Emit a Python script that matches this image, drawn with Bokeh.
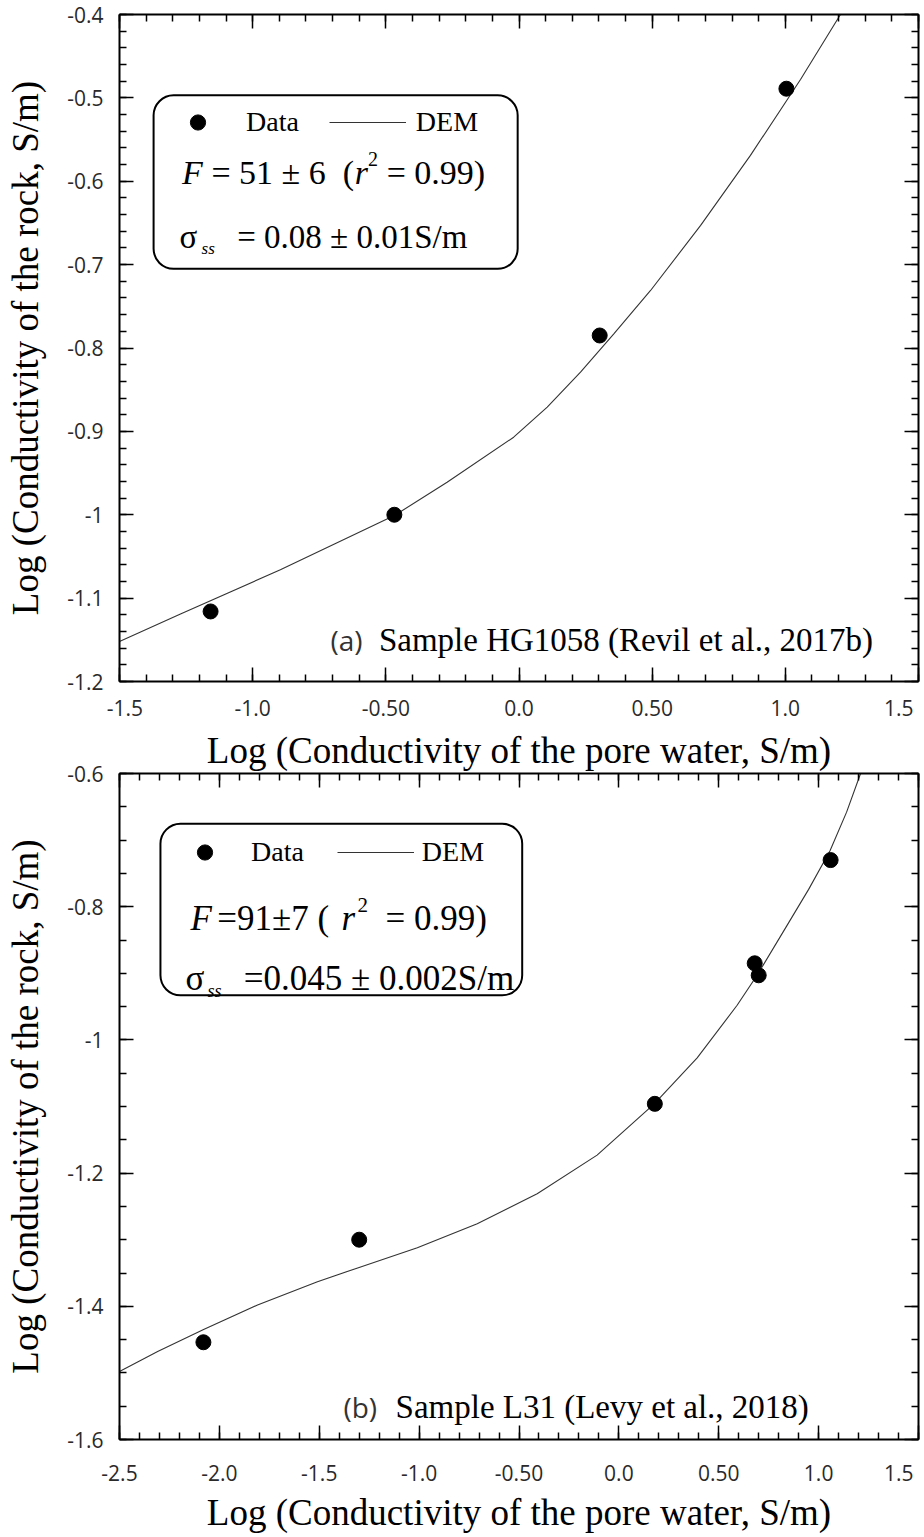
from bokeh.plotting import figure
from bokeh.layouts import column
from bokeh.models import (Range1d, FixedTicker, LinearAxis, Label, BoxAnnotation,
                          Legend, LegendItem)
from bokeh.embed import file_html
from bokeh.resources import INLINE

# ---------------- data ----------------
# (a) Sample HG1058 (Revil et al., 2017b)
a_pore = [-1.158, -0.468, 0.303, 1.004]          # log pore-water conductivity
a_rock = [-1.116, -1.000, -0.785, -0.489]        # log rock conductivity
a_dem_pore = [-1.500, -1.271, -0.896, -0.468, -0.270, -0.020, 0.106, 0.231,
              0.356, 0.494, 0.682, 0.869, 1.057, 1.207, 1.245]
a_dem_rock = [-1.152, -1.119, -1.066, -1.001, -0.961, -0.907, -0.871, -0.829,
              -0.783, -0.731, -0.653, -0.569, -0.478, -0.400, -0.381]
a_xticks = [-1.5, -1.0, -0.5, 0.0, 0.5, 1.0, 1.5]
a_xlabels = ["-1.5", "-1.0", "-0.50", "0.0", "0.50", "1.0", "1.5"]
a_yticks = [-1.2, -1.1, -1.0, -0.9, -0.8, -0.7, -0.6, -0.5, -0.4]
a_ylabels = ["-1.2", "-1.1", "-1", "-0.9", "-0.8", "-0.7", "-0.6", "-0.5", "-0.4"]

# (b) Sample L31 (Levy et al., 2018)
b_pore = [-2.08, -1.30, 0.18, 0.68, 0.70, 1.06]
b_rock = [-1.454, -1.300, -1.096, -0.885, -0.903, -0.730]
b_dem_pore = [-2.500, -2.309, -2.079, -1.809, -1.509, -1.304, -1.009, -0.709,
              -0.409, -0.109, 0.177, 0.392, 0.592, 0.692, 0.842, 0.950,
              1.057, 1.140, 1.210, 1.250]
b_dem_rock = [-1.498, -1.468, -1.435, -1.398, -1.363, -1.342, -1.312, -1.276,
              -1.231, -1.173, -1.096, -1.027, -0.948, -0.903, -0.828, -0.774,
              -0.716, -0.658, -0.600, -0.568]
b_xticks = [-2.5, -2.0, -1.5, -1.0, -0.5, 0.0, 0.5, 1.0, 1.5]
b_xlabels = ["-2.5", "-2.0", "-1.5", "-1.0", "-0.50", "0.0", "0.50", "1.0", "1.5"]
b_yticks = [-1.6, -1.4, -1.2, -1.0, -0.8, -0.6]
b_ylabels = ["-1.6", "-1.4", "-1.2", "-1", "-0.8", "-0.6"]

SERIF = "Liberation Serif"
SANS = "Open Sans"
TICK_COLOR = "#2a2a2a"
X_TITLE = "Log (Conductivity of the pore water, S/m)"
Y_TITLE = "Log (Conductivity of the rock, S/m)"
NBSP = "\u00a0"


def steps(lo, hi, step):
    n = int(round((hi - lo) / step))
    return [round(lo + i * step, 4) for i in range(n + 1)]


def text(p, x, y, s, size, font=SERIF, style="normal", color="black"):
    p.add_layout(Label(x=x, y=y, text=s, text_font=font, text_font_size=f"{size}px",
                       text_font_style=style, text_color=color,
                       text_align="left", text_baseline="alphabetic"))


def panel(xr, yr, xticks, xlabels, yticks, ylabels, xminor, yminor,
          height, border_top, border_bottom, tick_standoff, title_standoff,
          first_pad=0):
    p = figure(width=924, height=height, x_range=Range1d(*xr), y_range=Range1d(*yr),
               output_backend="svg", toolbar_location=None,
               min_border_left=119, min_border_right=6,
               min_border_top=border_top, min_border_bottom=border_bottom)
    p.outline_line_color = None
    p.border_fill_alpha = 0
    p.xgrid.visible = False
    p.ygrid.visible = False

    p.add_layout(LinearAxis(), "above")
    p.add_layout(LinearAxis(), "right")
    xt = FixedTicker(ticks=xticks, minor_ticks=xminor)
    yt = FixedTicker(ticks=yticks, minor_ticks=yminor)
    for ax in p.xaxis:
        ax.ticker = xt
    for ax in p.yaxis:
        ax.ticker = yt
    for ax in p.axis:
        ax.axis_line_width = 2
        ax.axis_line_color = "black"
        ax.major_tick_in = 14
        ax.major_tick_out = 0
        ax.minor_tick_in = 7
        ax.minor_tick_out = 0
        ax.major_tick_line_width = 1.5
        ax.minor_tick_line_width = 1.5
        ax.major_tick_line_color = "black"
        ax.minor_tick_line_color = "black"
        ax.major_label_text_font = SANS
        ax.major_label_text_font_size = "21px"
        ax.major_label_text_color = TICK_COLOR
        ax.axis_label_text_font = SERIF
        ax.axis_label_text_font_size = "37px"
        ax.axis_label_text_font_style = "normal"
        ax.axis_label_text_color = "black"

    # mirrored frame axes: ticks only, no labels
    for ax in (p.above[0], p.right[0]):
        ax.major_label_text_font_size = "0px"
        ax.major_label_text_color = None
        ax.major_label_standoff = 0
        ax.axis_label = None

    bottom, left = p.below[0], p.left[0]
    xover = dict(zip(xticks, xlabels))
    # end labels nudged inward so they sit inside the frame's span
    xover[xticks[0]] = NBSP * first_pad + xlabels[0]
    xover[xticks[-1]] = xlabels[-1] + NBSP * 2
    bottom.major_label_overrides = xover
    bottom.major_label_standoff = tick_standoff
    bottom.axis_label = X_TITLE
    bottom.axis_label_standoff = title_standoff

    left.major_label_overrides = dict(zip(yticks, ylabels))
    left.major_label_standoff = 16
    left.axis_label = Y_TITLE
    left.axis_label_standoff = 18
    return p


def draw_series(p, px, py, cx, cy):
    curve = p.line(cx, cy, line_color="#333333", line_width=1.1)
    dots = p.scatter(px, py, size=15, marker="circle", fill_color="black",
                     line_color="black")
    return dots, curve


def legend(p, dots, curve, loc, spacing, standoff):
    lg = Legend(items=[LegendItem(label="Data", renderers=[dots]),
                       LegendItem(label="DEM", renderers=[curve])],
                location=loc, orientation="horizontal", padding=0, margin=0,
                spacing=spacing, label_standoff=standoff, glyph_width=77,
                glyph_height=38, label_height=38, label_text_font=SERIF,
                label_text_font_size="28px", label_text_color="black",
                border_line_color=None, background_fill_alpha=0)
    p.add_layout(lg)


def frame_box(p, left, right, top, bottom):
    p.add_layout(BoxAnnotation(left=left, right=right, top=top, bottom=bottom,
                               fill_color=None, fill_alpha=0, line_color="black",
                               line_alpha=1.0, line_width=2, border_radius=20))


# ---------------- panel (a) ----------------
pa = panel((-1.5, 1.5), (-1.2, -0.4), a_xticks, a_xlabels, a_yticks, a_ylabels,
           steps(-1.5, 1.5, 0.1), steps(-1.2, -0.4, 0.02),
           height=775, border_top=14, border_bottom=94,
           tick_standoff=12, title_standoff=5, first_pad=2)
dots_a, curve_a = draw_series(pa, a_pore, a_rock, a_dem_pore, a_dem_rock)
frame_box(pa, -1.372, -0.005, -0.497, -0.705)
legend(pa, dots_a, curve_a, (40, 540), 30, 10)
text(pa, -1.265, -0.589, "F", 34, style="italic")
text(pa, -1.155, -0.589, "= 51 \u00b1 6" + NBSP * 2 + "(", 34)
text(pa, -0.617, -0.589, "r", 34, style="italic")
text(pa, -0.567, -0.573, "2", 20)
text(pa, -0.497, -0.589, "= 0.99)", 34)
text(pa, -1.275, -0.667, "\u03c3", 33)
text(pa, -1.192, -0.681, "ss", 17, style="italic")
text(pa, -1.058, -0.667, "= 0.08 \u00b1 0.01S/m", 33)
text(pa, -0.708, -1.150, "(a)", 28, font=SANS, color="#333333")
text(pa, -0.526, -1.150, "Sample HG1058 (Revil et al., 2017b)", 33)

# ---------------- panel (b) ----------------
pb = panel((-2.5, 1.5), (-1.6, -0.6), b_xticks, b_xlabels, b_yticks, b_ylabels,
           steps(-2.5, 1.5, 0.1), steps(-1.6, -0.6, 0.05),
           height=779, border_top=15, border_bottom=98,
           tick_standoff=19, title_standoff=2)
# tuck the lower panel up under the upper one's axis title (its border is transparent)
pb.margin = (-17, 0, 0, 0)
dots_b, curve_b = draw_series(pb, b_pore, b_rock, b_dem_pore, b_dem_rock)
frame_box(pb, -2.295, -0.484, -0.6755, -0.933)
legend(pb, dots_b, curve_b, (47, 568), 33, 8)
text(pb, -2.145, -0.818, "F", 35, style="italic")
text(pb, -2.011, -0.818, "=91\u00b17 (", 35)
text(pb, -1.389, -0.818, "r", 35, style="italic")
text(pb, -1.309, -0.798, "2", 21)
text(pb, -1.168, -0.818, "= 0.99)", 35)
text(pb, -2.170, -0.908, "\u03c3", 35)
text(pb, -2.059, -0.926, "ss", 18, style="italic")
text(pb, -1.878, -0.908, "=0.045 \u00b1 0.002S/m", 35)
text(pb, -1.379, -1.5515, "(b)", 28, font=SANS, color="#333333")
text(pb, -1.118, -1.5515, "Sample L31 (Levy et al., 2018)", 33)

layout = column(pa, pb, spacing=0)
open("out.html", "w").write(file_html(layout, INLINE, title="Rock vs pore water conductivity"))
